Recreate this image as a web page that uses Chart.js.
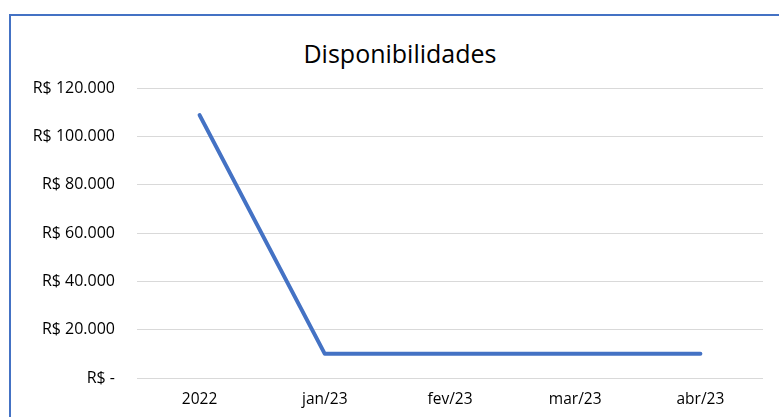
<!DOCTYPE html>
<html>
<head>
<meta charset="utf-8">
<script src="https://cdn.jsdelivr.net/npm/chart.js@4"></script>
<style>
  html, body { margin: 0; padding: 0; background: #fff; overflow: hidden; }
  #wrap { position: relative; width: 779px; height: 417px; }
  #frame { position: absolute; left: 9px; top: 14px; width: 800px; height: 440px; border: 2px solid #4472C4; box-sizing: border-box; }
  #title { position: absolute; left: 0; width: 800px; top: 38px; text-align: center;
           font-family: 'Open Sans', 'Noto Sans', sans-serif; font-size: 25px; line-height: 30px; color: #000; }
  #myChart { position: absolute; left: 0; top: 0; }
</style>
</head>
<body>
<div id="wrap">
  <div id="frame"></div>
  <div id="title">Disponibilidades</div>
  <canvas id="myChart" width="779" height="417"></canvas>
</div>
<script>
const categories = ['2022', 'jan/23', 'fev/23', 'mar/23', 'abr/23']
const saldo = [108800, 10000, 10000, 10000, 10000]
const yTicks = [0, 20000, 40000, 60000, 80000, 100000, 120000]

function formatBRL(v) {
    if (v === 0) return 'R$ -'
    return 'R$ ' + String(v).replace(/\B(?=(\d{3})+(?!\d))/g, '.')
}

function drawChart() {
    const ctx = document.getElementById('myChart')
    const font = "'Open Sans', 'Noto Sans', sans-serif"

    const data = {
        labels: categories,
        datasets: [{
            label: 'Disponibilidades',
            data: saldo,
            borderColor: '#4472C4',
            borderWidth: 4,
            borderCapStyle: 'round',
            borderJoinStyle: 'round',
            pointRadius: 0,
            fill: false,
            tension: 0
        }]
    }

    const config = {
        type: 'line',
        data: data,
        options: {
            responsive: false,
            animation: false,
            layout: { padding: { left: 0, right: 16, top: 88, bottom: 0 } },
            plugins: {
                legend: { display: false },
                tooltip: { enabled: false },
                title: { display: false }
            },
            scales: {
                x: {
                    offset: true,
                    grid: { display: false, drawTicks: false },
                    border: { display: false },
                    ticks: { color: '#000', font: { family: font, size: 15.5 }, padding: 12, maxRotation: 0 },
                    afterFit: function (scale) { scale.height = 39 }
                },
                y: {
                    min: 0,
                    max: 120000,
                    afterBuildTicks: function (scale) { scale.ticks = yTicks.map(v => ({ value: v })) },
                    grid: { color: '#D9D9D9', lineWidth: 1, drawTicks: false },
                    border: { display: false },
                    ticks: {
                        color: '#000',
                        font: { family: font, size: 16 },
                        padding: 22,
                        callback: function (value) { return formatBRL(value) }
                    },
                    afterFit: function (scale) { scale.width = 137 }
                }
            }
        }
    }

    new Chart(ctx, config)
}

document.addEventListener('DOMContentLoaded', drawChart)
</script>
</body>
</html>
